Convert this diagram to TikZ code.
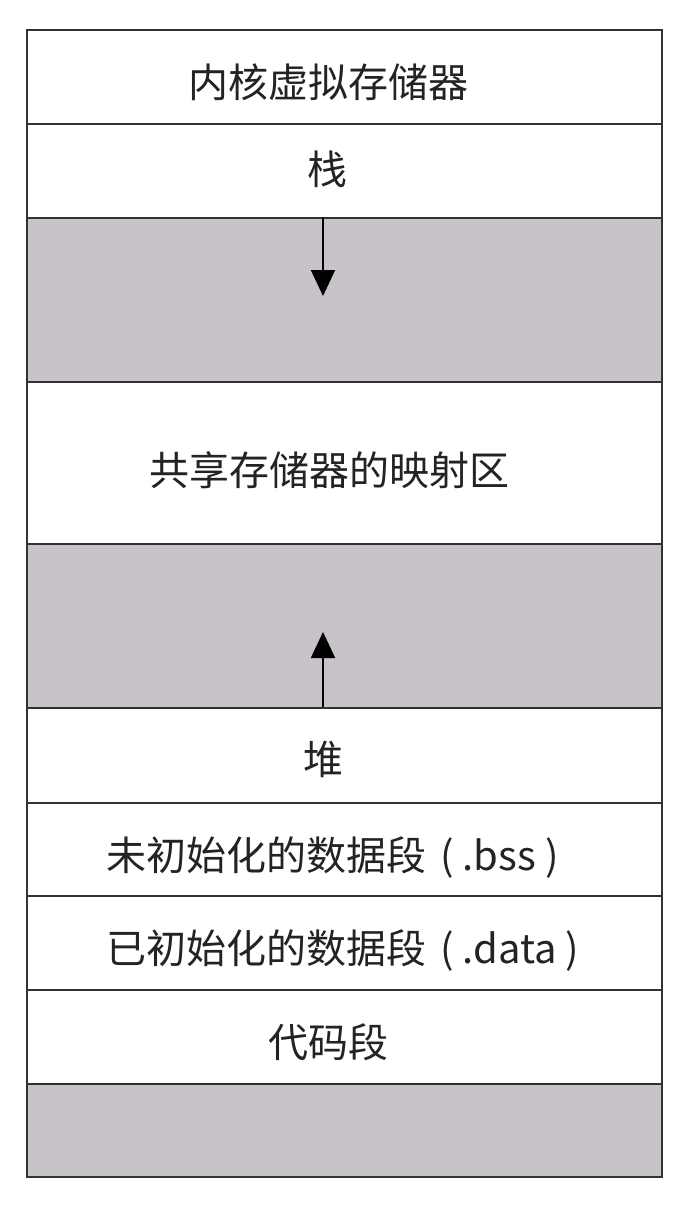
\documentclass[tikz,border=0pt]{standalone}
\usepackage{fontspec}
\usepackage{xcolor}
\usepackage{tikz}
\newfontfamily\cjk{Noto Sans CJK SC}
\definecolor{linegray}{RGB}{50, 50, 50}
\definecolor{textgray}{RGB}{35, 35, 35}
\definecolor{freegray}{RGB}{200, 195, 201}
\usetikzlibrary{arrows.meta, positioning, calc}
\newcommand{\sectname}[1]{\hspace{14pt}(\hspace{9pt}#1\hspace{9pt})}

\begin{document}
\begin{tikzpicture}[x=1pt, y=-1pt,
    seg/.style={rectangle, draw=linegray, fill=white, line width=2.5pt, minimum width=635pt},
    free/.style={seg, fill=freegray},
    tag/.style={inner sep=0pt, font=\cjk\fontsize{40}{44}\selectfont, text=textgray},
    growth/.style={-{Triangle[width=24pt, length=26pt]}, line width=2pt, draw=black}
]
    \useasboundingbox (0, 0) rectangle (684, 1216);

    % Segments
    \node[seg, minimum height=94pt] (kernel) at (344.5, 77) {};
    \node[seg, minimum height=94pt] (stack) at (344.5, 171) {};
    \node[free, minimum height=164pt] (gapA) at (344.5, 300) {};
    \node[seg, minimum height=162pt] (shared) at (344.5, 463) {};
    \node[free, minimum height=164pt] (gapB) at (344.5, 626) {};
    \node[seg, minimum height=95pt] (heap) at (344.5, 755.5) {};
    \node[seg, minimum height=93pt] (bss) at (344.5, 849.5) {};
    \node[seg, minimum height=94pt] (data) at (344.5, 943) {};
    \node[seg, minimum height=94pt] (code) at (344.5, 1037) {};
    \node[free, minimum height=93pt] (reserved) at (344.5, 1130.5) {};

    % Labels
    \node[tag] (kernel-t) at (328, 82) {内核虚拟存储器};
    \node[tag] (stack-t) at (327, 169) {栈};
    \node[tag] (shared-t) at (329, 470) {共享存储器的映射区};
    \node[tag] (heap-t) at (323, 759) {堆};
    \node[tag, anchor=west] (bss-t) at (106, 857) {未初始化的数据段\sectname{.bss}};
    \node[tag, anchor=west] (data-t) at (106, 950) {已初始化的数据段\sectname{.data}};
    \node[tag] (code-t) at (328, 1042) {代码段};

    % Growth arrows
    \coordinate (stacktip) at (323, 296);
    \coordinate (heaptip) at (323, 632);
    \draw[growth] (stacktip |- gapA.north) -- (stacktip);
    \draw[growth] (heaptip |- heap.north) -- (heaptip);
\end{tikzpicture}
\end{document}
